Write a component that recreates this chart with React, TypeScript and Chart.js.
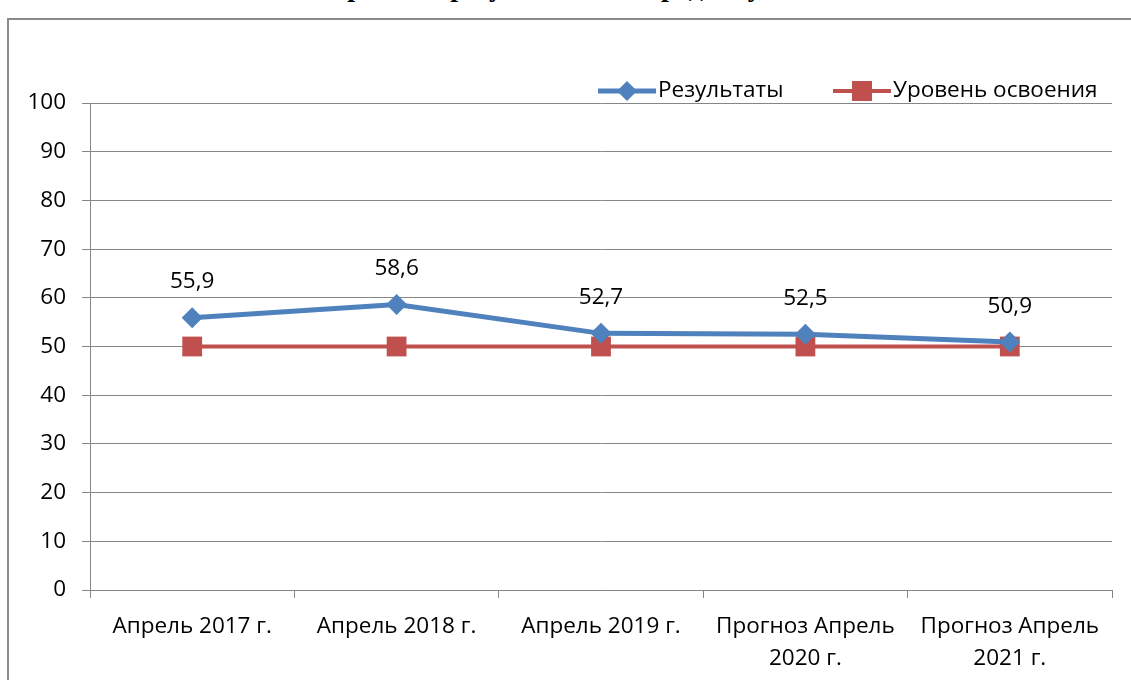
import React, { useEffect, useRef } from "react";
import { Chart, registerables } from "chart.js";

Chart.register(...registerables);

const categories: string[][] = [
  ["Апрель 2017 г."],
  ["Апрель 2018 г."],
  ["Апрель 2019 г."],
  ["Прогноз Апрель", "2020 г."],
  ["Прогноз Апрель", "2021 г."],
];
const resultsValues = [55.9, 58.6, 52.7, 52.5, 50.9];
const levelValues = [50, 50, 50, 50, 50];
const seriesNames = ["Результаты", "Уровень освоения"];
const yTicks = { min: 0, max: 100, step: 10 };
const titleText = "и прогнозе результатов по предмету, в %";

const BLUE = "#4F81BD";
const RED = "#C0504D";
const GRID = "#868686";
const FONT = "'Open Sans', 'Noto Sans', sans-serif";
const FS = 22.5;

const valueLabels = {
  id: "valueLabels",
  afterDatasetsDraw(chart: any) {
    const ctx = chart.ctx;
    const meta = chart.getDatasetMeta(0);
    ctx.save();
    ctx.font = `${FS}px ${FONT}`;
    ctx.fillStyle = "#000";
    ctx.textAlign = "center";
    ctx.textBaseline = "middle";
    meta.data.forEach((pt: any, i: number) => {
      const v = chart.data.datasets[0].data[i];
      ctx.fillText(String(v).replace(".", ","), pt.x, pt.y - 36);
    });
    ctx.restore();
  },
};

const customLegend = {
  id: "customLegend",
  afterDraw(chart: any) {
    const ctx = chart.ctx;
    const y = 91;
    const items = [
      { x: 598, color: BLUE, shape: "diamond", text: seriesNames[0], lw: 5 },
      { x: 833, color: RED, shape: "square", text: seriesNames[1], lw: 4 },
    ];
    ctx.save();
    items.forEach((it) => {
      ctx.strokeStyle = it.color;
      ctx.lineWidth = it.lw;
      ctx.beginPath();
      ctx.moveTo(it.x, y);
      ctx.lineTo(it.x + 58, y);
      ctx.stroke();
      const cx = it.x + 29;
      ctx.fillStyle = it.color;
      ctx.beginPath();
      if (it.shape === "diamond") {
        ctx.moveTo(cx, y - 10);
        ctx.lineTo(cx + 10, y);
        ctx.lineTo(cx, y + 10);
        ctx.lineTo(cx - 10, y);
        ctx.closePath();
      } else {
        ctx.rect(cx - 10, y - 10, 20, 20);
      }
      ctx.fill();
      ctx.font = `${FS}px ${FONT}`;
      ctx.fillStyle = "#000";
      ctx.textAlign = "left";
      ctx.textBaseline = "middle";
      ctx.fillText(it.text, it.x + 60, y);
    });
    ctx.restore();
  },
};

export default function App() {
  const ref = useRef<HTMLCanvasElement>(null);
  useEffect(() => {
    if (!ref.current) return;
    const chart = new Chart(ref.current, {
      type: "line",
      data: {
        labels: categories,
        datasets: [
          {
            label: seriesNames[0],
            data: resultsValues,
            borderColor: BLUE,
            backgroundColor: BLUE,
            borderWidth: 5,
            pointStyle: "rectRot",
            pointRadius: 10.5,
            pointHoverRadius: 10.5,
            pointBorderWidth: 0,
            tension: 0,
          },
          {
            label: seriesNames[1],
            data: levelValues,
            borderColor: RED,
            backgroundColor: RED,
            borderWidth: 4,
            pointStyle: "rect",
            pointRadius: 14,
            pointHoverRadius: 14,
            pointBorderWidth: 0,
            tension: 0,
          },
        ],
      },
      options: {
        responsive: false,
        animation: false,
        layout: { padding: { top: 103, right: 19, left: 0, bottom: 0 } },
        plugins: {
          legend: { display: false },
          tooltip: { enabled: false },
        },
        scales: {
          x: {
            offset: true,
            grid: {
              offset: true,
              drawOnChartArea: false,
              drawTicks: true,
              tickLength: 8,
              color: GRID,
            },
            border: { color: GRID, width: 1 },
            ticks: {
              color: "#000",
              font: { family: FONT, size: FS, lineHeight: 1.45 },
              padding: 12,
              maxRotation: 0,
              autoSkip: false,
            },
            afterFit(scale: any) {
              scale.height = 90;
            },
          },
          y: {
            min: yTicks.min,
            max: yTicks.max,
            grid: { color: GRID, tickLength: 8 },
            border: { color: GRID, width: 1 },
            ticks: {
              stepSize: yTicks.step,
              color: "#000",
              font: { family: FONT, size: FS },
              padding: 16,
            },
            afterFit(scale: any) {
              scale.width = 90;
            },
          },
        },
      },
      plugins: [valueLabels, customLegend],
    });
    return () => chart.destroy();
  }, []);

  return (
    <div style={{ position: "fixed", left: 0, top: 0, width: 1131, height: 680, overflow: "hidden", background: "#fff" }}>
      <div
        style={{
          position: "absolute",
          left: 0,
          width: 1131,
          top: -29,
          textAlign: "center",
          fontFamily: "'Liberation Serif', serif",
          fontWeight: "bold",
          fontSize: 28,
          lineHeight: "32px",
          whiteSpace: "nowrap",
        }}
      >
        {titleText}
      </div>
      <div
        style={{
          position: "absolute",
          left: 7,
          top: 18,
          width: 1140,
          height: 700,
          border: "2px solid #8a8a8a",
        }}
      />
      <canvas ref={ref} width={1131} height={680} style={{ position: "absolute", left: 0, top: 0 }} />
    </div>
  );
}
